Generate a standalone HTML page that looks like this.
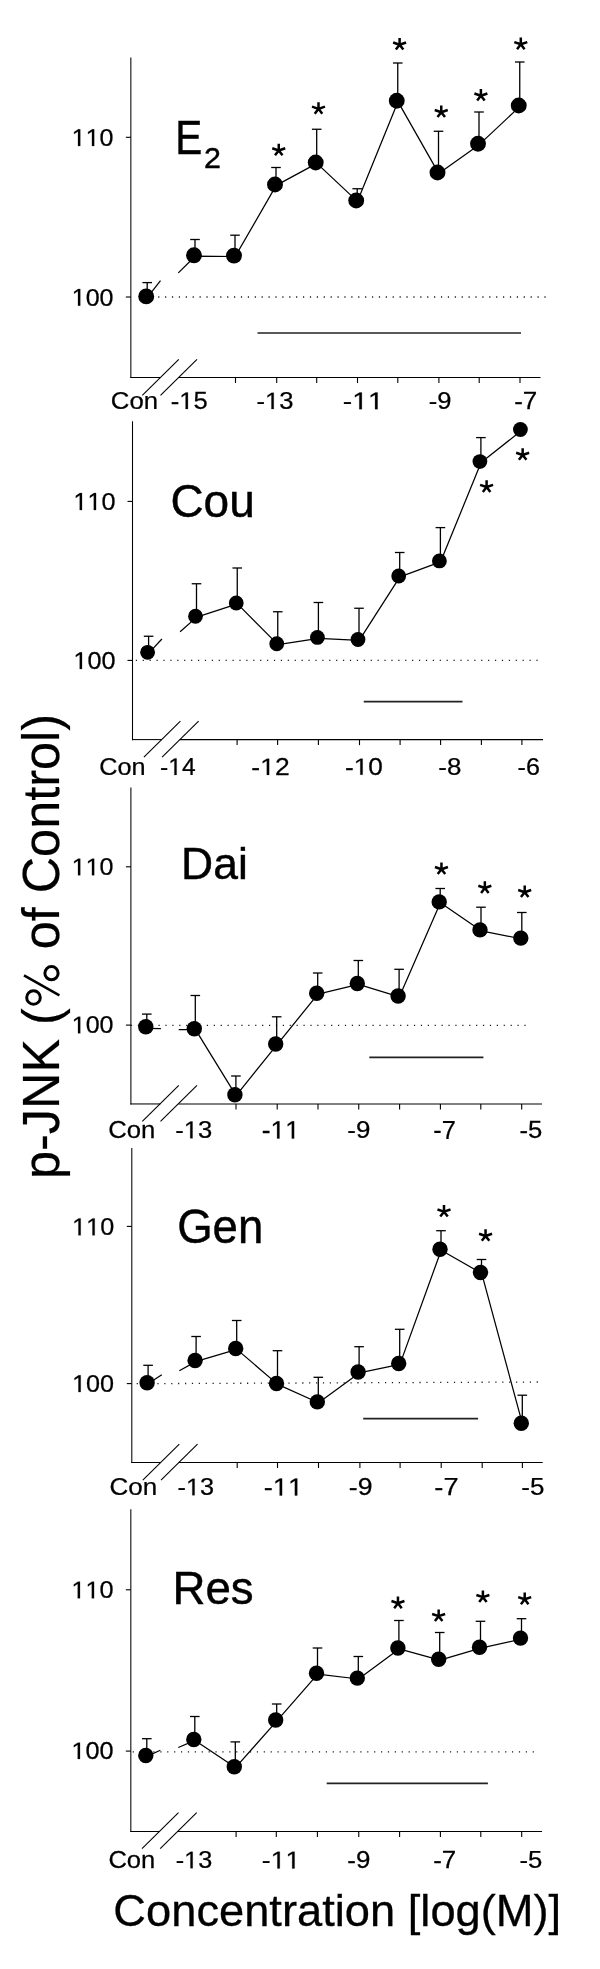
<!DOCTYPE html>
<html><head><meta charset="utf-8"><style>
html,body{margin:0;padding:0;background:#fff;}
svg{display:block;}
text{font-family:"Liberation Sans", sans-serif;fill:#000;stroke:#000;stroke-width:0.45px;font-kerning:none;}
svg{filter:grayscale(100%);}
</style></head><body>
<svg width="600" height="1969" viewBox="0 0 600 1969">
<rect width="600" height="1969" fill="#fff"/>
<line x1="130.85" y1="57.5" x2="130.85" y2="378.025" stroke="#000" stroke-width="1.05"/>
<line x1="125.85" y1="137.3" x2="130.85" y2="137.3" stroke="#000" stroke-width="1.1"/>
<line x1="125.85" y1="297.0" x2="130.85" y2="297.0" stroke="#000" stroke-width="1.1"/>
<line x1="130.325" y1="377.5" x2="160.3" y2="377.5" stroke="#000" stroke-width="1.05"/>
<line x1="178.3" y1="377.5" x2="540.5" y2="377.5" stroke="#000" stroke-width="1.05"/>
<line x1="142.3" y1="395.3" x2="178.8" y2="359.3" stroke="#000" stroke-width="1.1"/>
<line x1="160.5" y1="395.3" x2="197.0" y2="359.3" stroke="#000" stroke-width="1.1"/>
<line x1="235.5" y1="377.5" x2="235.5" y2="383.0" stroke="#000" stroke-width="1.1"/>
<line x1="276.7" y1="377.5" x2="276.7" y2="383.0" stroke="#000" stroke-width="1.1"/>
<line x1="316.7" y1="377.5" x2="316.7" y2="383.0" stroke="#000" stroke-width="1.1"/>
<line x1="357.5" y1="377.5" x2="357.5" y2="383.0" stroke="#000" stroke-width="1.1"/>
<line x1="397.8" y1="377.5" x2="397.8" y2="383.0" stroke="#000" stroke-width="1.1"/>
<line x1="438.9" y1="377.5" x2="438.9" y2="383.0" stroke="#000" stroke-width="1.1"/>
<line x1="479.2" y1="377.5" x2="479.2" y2="383.0" stroke="#000" stroke-width="1.1"/>
<line x1="520.0" y1="377.5" x2="520.0" y2="383.0" stroke="#000" stroke-width="1.1"/>
<line x1="158.15" y1="297.0" x2="545.70" y2="297.0" stroke="#1a1a1a" stroke-width="1.3" stroke-dasharray="1.2 5.6973"/>
<line x1="257.5" y1="333.0" x2="521" y2="333.0" stroke="#222" stroke-width="1.7"/>
<text transform="translate(71.71 145.94) scale(1.0414 1)" font-size="24.08" style="stroke-width:0.25px">  0</text><path d="M515 0L515 1237L197 1010L197 1180L530 1409L696 1409L696 0Z" transform="translate(71.71 145.94) scale(0.01225 -0.01176)" fill="#000" stroke="#000" stroke-width="0.25" vector-effect="non-scaling-stroke"/><path d="M515 0L515 1237L197 1010L197 1180L530 1409L696 1409L696 0Z" transform="translate(85.66 145.94) scale(0.01225 -0.01176)" fill="#000" stroke="#000" stroke-width="0.25" vector-effect="non-scaling-stroke"/>
<text transform="translate(71.71 305.64) scale(1.0414 1)" font-size="24.08" style="stroke-width:0.25px"> 00</text><path d="M515 0L515 1237L197 1010L197 1180L530 1409L696 1409L696 0Z" transform="translate(71.71 305.64) scale(0.01225 -0.01176)" fill="#000" stroke="#000" stroke-width="0.25" vector-effect="non-scaling-stroke"/>
<text transform="translate(110.82 408.95) scale(1.1014 1)" font-size="23.38" style="stroke-width:0.25px">Con</text>
<text transform="translate(170.69 408.94) scale(1.0781 1)" font-size="23.72" style="stroke-width:0.25px">- 5</text><path d="M515 0L515 1237L197 1010L197 1180L530 1409L696 1409L696 0Z" transform="translate(179.20 408.94) scale(0.01249 -0.01158)" fill="#000" stroke="#000" stroke-width="0.25" vector-effect="non-scaling-stroke"/>
<text transform="translate(256.49 408.95) scale(1.0956 1)" font-size="23.38" style="stroke-width:0.25px">- 3</text><path d="M515 0L515 1237L197 1010L197 1180L530 1409L696 1409L696 0Z" transform="translate(265.02 408.95) scale(0.01250 -0.01141)" fill="#000" stroke="#000" stroke-width="0.25" vector-effect="non-scaling-stroke"/>
<text transform="translate(342.77 409.18) scale(1.1774 1)" font-size="24.06" style="stroke-width:0.25px">-  </text><path d="M515 0L515 1237L197 1010L197 1180L530 1409L696 1409L696 0Z" transform="translate(352.20 409.18) scale(0.01383 -0.01175)" fill="#000" stroke="#000" stroke-width="0.25" vector-effect="non-scaling-stroke"/><path d="M515 0L515 1237L197 1010L197 1180L530 1409L696 1409L696 0Z" transform="translate(367.95 409.18) scale(0.01383 -0.01175)" fill="#000" stroke="#000" stroke-width="0.25" vector-effect="non-scaling-stroke"/>
<text transform="translate(428.69 408.95) scale(1.0918 1)" font-size="23.38" style="stroke-width:0.25px">-9</text>
<text transform="translate(514.17 409.18) scale(1.0806 1)" font-size="24.06" style="stroke-width:0.25px">-7</text>
<text transform="translate(175.20 153.78) scale(0.8586 1)" font-size="47.17">E</text>
<text transform="translate(204.00 168.47) scale(1.0280 1)" font-size="29.57">2</text>
<line x1="147.39999999999998" y1="297.29999999999995" x2="160.5" y2="280.7" stroke="#000" stroke-width="1.25"/>
<path d="M178.3 272.9 L195.20 256.20 L235.20 256.50 L276.20 185.40 L316.90 163.40 L357.40 201.40 L397.95 101.65 L438.70 173.40 L479.20 144.65 L519.95 106.40" fill="none" stroke="#000" stroke-width="1.25" stroke-linejoin="round"/>
<line x1="147.2" y1="296.4" x2="147.2" y2="282.6" stroke="#000" stroke-width="1.3"/>
<line x1="142.39999999999998" y1="282.6" x2="152.0" y2="282.6" stroke="#000" stroke-width="1.3"/>
<line x1="195.0" y1="255.3" x2="195.0" y2="239.5" stroke="#000" stroke-width="1.3"/>
<line x1="190.2" y1="239.5" x2="199.8" y2="239.5" stroke="#000" stroke-width="1.3"/>
<line x1="235.0" y1="255.6" x2="235.0" y2="235.2" stroke="#000" stroke-width="1.3"/>
<line x1="230.2" y1="235.2" x2="239.8" y2="235.2" stroke="#000" stroke-width="1.3"/>
<line x1="276.0" y1="184.5" x2="276.0" y2="167.5" stroke="#000" stroke-width="1.3"/>
<line x1="271.2" y1="167.5" x2="280.8" y2="167.5" stroke="#000" stroke-width="1.3"/>
<line x1="316.7" y1="162.5" x2="316.7" y2="129.25" stroke="#000" stroke-width="1.3"/>
<line x1="311.9" y1="129.25" x2="321.5" y2="129.25" stroke="#000" stroke-width="1.3"/>
<line x1="357.2" y1="200.5" x2="357.2" y2="188.75" stroke="#000" stroke-width="1.3"/>
<line x1="352.4" y1="188.75" x2="362.0" y2="188.75" stroke="#000" stroke-width="1.3"/>
<line x1="397.75" y1="100.75" x2="397.75" y2="63" stroke="#000" stroke-width="1.3"/>
<line x1="392.95" y1="63" x2="402.55" y2="63" stroke="#000" stroke-width="1.3"/>
<line x1="438.5" y1="172.5" x2="438.5" y2="131.25" stroke="#000" stroke-width="1.3"/>
<line x1="433.7" y1="131.25" x2="443.3" y2="131.25" stroke="#000" stroke-width="1.3"/>
<line x1="479.0" y1="143.75" x2="479.0" y2="112" stroke="#000" stroke-width="1.3"/>
<line x1="474.2" y1="112" x2="483.8" y2="112" stroke="#000" stroke-width="1.3"/>
<line x1="519.75" y1="105.5" x2="519.75" y2="62" stroke="#000" stroke-width="1.3"/>
<line x1="514.95" y1="62" x2="524.55" y2="62" stroke="#000" stroke-width="1.3"/>
<circle cx="146.2" cy="296.4" r="7.95" fill="#000"/>
<circle cx="194" cy="255.3" r="7.95" fill="#000"/>
<circle cx="234" cy="255.6" r="7.95" fill="#000"/>
<circle cx="275" cy="184.5" r="7.95" fill="#000"/>
<circle cx="315.7" cy="162.5" r="7.95" fill="#000"/>
<circle cx="356.2" cy="200.5" r="7.95" fill="#000"/>
<circle cx="396.75" cy="100.75" r="7.95" fill="#000"/>
<circle cx="437.5" cy="172.5" r="7.95" fill="#000"/>
<circle cx="478" cy="143.75" r="7.95" fill="#000"/>
<circle cx="518.75" cy="105.5" r="7.95" fill="#000"/>
<path d="M278.75 150.45l0 -6.7M278.75 150.45l6.5 -2.2M278.75 150.45l-6.5 -2.2M278.75 150.45l3.75 4.9M278.75 150.45l-3.75 4.9" stroke="#000" stroke-width="2.5" fill="none"/>
<path d="M318.50 108.85l0 -6.7M318.50 108.85l6.5 -2.2M318.50 108.85l-6.5 -2.2M318.50 108.85l3.75 4.9M318.50 108.85l-3.75 4.9" stroke="#000" stroke-width="2.5" fill="none"/>
<path d="M399.60 44.70l0 -6.7M399.60 44.70l6.5 -2.2M399.60 44.70l-6.5 -2.2M399.60 44.70l3.75 4.9M399.60 44.70l-3.75 4.9" stroke="#000" stroke-width="2.5" fill="none"/>
<path d="M441.25 112.20l0 -6.7M441.25 112.20l6.5 -2.2M441.25 112.20l-6.5 -2.2M441.25 112.20l3.75 4.9M441.25 112.20l-3.75 4.9" stroke="#000" stroke-width="2.5" fill="none"/>
<path d="M480.90 95.70l0 -6.7M480.90 95.70l6.5 -2.2M480.90 95.70l-6.5 -2.2M480.90 95.70l3.75 4.9M480.90 95.70l-3.75 4.9" stroke="#000" stroke-width="2.5" fill="none"/>
<path d="M520.80 44.30l0 -6.7M520.80 44.30l6.5 -2.2M520.80 44.30l-6.5 -2.2M520.80 44.30l3.75 4.9M520.80 44.30l-3.75 4.9" stroke="#000" stroke-width="2.5" fill="none"/>
<line x1="132.5" y1="421.25" x2="132.5" y2="740.125" stroke="#000" stroke-width="1.05"/>
<line x1="127.5" y1="501.4" x2="132.5" y2="501.4" stroke="#000" stroke-width="1.1"/>
<line x1="127.5" y1="660.4" x2="132.5" y2="660.4" stroke="#000" stroke-width="1.1"/>
<line x1="131.975" y1="739.6" x2="161.9" y2="739.6" stroke="#000" stroke-width="1.05"/>
<line x1="179.9" y1="739.6" x2="543" y2="739.6" stroke="#000" stroke-width="1.05"/>
<line x1="143.9" y1="757.1" x2="180.4" y2="721.1" stroke="#000" stroke-width="1.1"/>
<line x1="162.1" y1="757.1" x2="198.6" y2="721.1" stroke="#000" stroke-width="1.1"/>
<line x1="237.1" y1="739.6" x2="237.1" y2="745.1" stroke="#000" stroke-width="1.1"/>
<line x1="277.6" y1="739.6" x2="277.6" y2="745.1" stroke="#000" stroke-width="1.1"/>
<line x1="318.4" y1="739.6" x2="318.4" y2="745.1" stroke="#000" stroke-width="1.1"/>
<line x1="359.5" y1="739.6" x2="359.5" y2="745.1" stroke="#000" stroke-width="1.1"/>
<line x1="400.1" y1="739.6" x2="400.1" y2="745.1" stroke="#000" stroke-width="1.1"/>
<line x1="440.6" y1="739.6" x2="440.6" y2="745.1" stroke="#000" stroke-width="1.1"/>
<line x1="481.4" y1="739.6" x2="481.4" y2="745.1" stroke="#000" stroke-width="1.1"/>
<line x1="521.9" y1="739.6" x2="521.9" y2="745.1" stroke="#000" stroke-width="1.1"/>
<line x1="135.80" y1="660.4" x2="537.70" y2="660.4" stroke="#1a1a1a" stroke-width="1.3" stroke-dasharray="1.2 5.7069"/>
<line x1="363.75" y1="701.6" x2="462.5" y2="701.6" stroke="#222" stroke-width="1.7"/>
<text transform="translate(73.39 510.03) scale(1.0255 1)" font-size="24.65" style="stroke-width:0.25px">  0</text><path d="M515 0L515 1237L197 1010L197 1180L530 1409L696 1409L696 0Z" transform="translate(73.39 510.03) scale(0.01234 -0.01203)" fill="#000" stroke="#000" stroke-width="0.25" vector-effect="non-scaling-stroke"/><path d="M515 0L515 1237L197 1010L197 1180L530 1409L696 1409L696 0Z" transform="translate(87.45 510.03) scale(0.01234 -0.01203)" fill="#000" stroke="#000" stroke-width="0.25" vector-effect="non-scaling-stroke"/>
<text transform="translate(73.39 668.94) scale(1.0495 1)" font-size="24.08" style="stroke-width:0.25px"> 00</text><path d="M515 0L515 1237L197 1010L197 1180L530 1409L696 1409L696 0Z" transform="translate(73.39 668.94) scale(0.01234 -0.01176)" fill="#000" stroke="#000" stroke-width="0.25" vector-effect="non-scaling-stroke"/>
<text transform="translate(99.24 774.65) scale(1.0855 1)" font-size="23.23" style="stroke-width:0.25px">Con</text>
<text transform="translate(160.03 774.88) scale(1.0291 1)" font-size="23.91" style="stroke-width:0.25px">- 4</text><path d="M515 0L515 1237L197 1010L197 1180L530 1409L696 1409L696 0Z" transform="translate(168.23 774.88) scale(0.01201 -0.01167)" fill="#000" stroke="#000" stroke-width="0.25" vector-effect="non-scaling-stroke"/>
<text transform="translate(251.35 774.88) scale(1.1236 1)" font-size="23.56" style="stroke-width:0.25px">- 2</text><path d="M515 0L515 1237L197 1010L197 1180L530 1409L696 1409L696 0Z" transform="translate(260.16 774.88) scale(0.01292 -0.01150)" fill="#000" stroke="#000" stroke-width="0.25" vector-effect="non-scaling-stroke"/>
<text transform="translate(344.96 774.65) scale(1.1299 1)" font-size="23.23" style="stroke-width:0.25px">- 0</text><path d="M515 0L515 1237L197 1010L197 1180L530 1409L696 1409L696 0Z" transform="translate(353.70 774.65) scale(0.01282 -0.01134)" fill="#000" stroke="#000" stroke-width="0.25" vector-effect="non-scaling-stroke"/>
<text transform="translate(438.37 774.65) scale(1.1146 1)" font-size="23.23" style="stroke-width:0.25px">-8</text>
<text transform="translate(517.61 774.65) scale(1.0830 1)" font-size="23.23" style="stroke-width:0.25px">-6</text>
<text transform="translate(170.39 517.32) scale(0.9787 1)" font-size="47.03">Cou</text>
<line x1="148.79999999999998" y1="653.1999999999999" x2="161.9" y2="639" stroke="#000" stroke-width="1.25"/>
<path d="M180.1 631.7 L196.70 617.15 L237.45 603.90 L277.95 644.65 L318.60 638.30 L359.20 640.40 L399.90 576.90 L440.60 561.80 L481.10 462.50 L521.60 430.40" fill="none" stroke="#000" stroke-width="1.25" stroke-linejoin="round"/>
<line x1="148.6" y1="652.3" x2="148.6" y2="636.25" stroke="#000" stroke-width="1.3"/>
<line x1="143.79999999999998" y1="636.25" x2="153.4" y2="636.25" stroke="#000" stroke-width="1.3"/>
<line x1="196.5" y1="616.25" x2="196.5" y2="583.75" stroke="#000" stroke-width="1.3"/>
<line x1="191.7" y1="583.75" x2="201.3" y2="583.75" stroke="#000" stroke-width="1.3"/>
<line x1="237.25" y1="603" x2="237.25" y2="568" stroke="#000" stroke-width="1.3"/>
<line x1="232.45" y1="568" x2="242.05" y2="568" stroke="#000" stroke-width="1.3"/>
<line x1="277.75" y1="643.75" x2="277.75" y2="611.75" stroke="#000" stroke-width="1.3"/>
<line x1="272.95" y1="611.75" x2="282.55" y2="611.75" stroke="#000" stroke-width="1.3"/>
<line x1="318.4" y1="637.4" x2="318.4" y2="602.5" stroke="#000" stroke-width="1.3"/>
<line x1="313.59999999999997" y1="602.5" x2="323.2" y2="602.5" stroke="#000" stroke-width="1.3"/>
<line x1="359.0" y1="639.5" x2="359.0" y2="608.25" stroke="#000" stroke-width="1.3"/>
<line x1="354.2" y1="608.25" x2="363.8" y2="608.25" stroke="#000" stroke-width="1.3"/>
<line x1="399.7" y1="576" x2="399.7" y2="552.5" stroke="#000" stroke-width="1.3"/>
<line x1="394.9" y1="552.5" x2="404.5" y2="552.5" stroke="#000" stroke-width="1.3"/>
<line x1="440.4" y1="560.9" x2="440.4" y2="527.6" stroke="#000" stroke-width="1.3"/>
<line x1="435.59999999999997" y1="527.6" x2="445.2" y2="527.6" stroke="#000" stroke-width="1.3"/>
<line x1="480.9" y1="461.6" x2="480.9" y2="437.6" stroke="#000" stroke-width="1.3"/>
<line x1="476.09999999999997" y1="437.6" x2="485.7" y2="437.6" stroke="#000" stroke-width="1.3"/>
<circle cx="147.6" cy="652.3" r="7.4" fill="#000"/>
<circle cx="195.5" cy="616.25" r="7.4" fill="#000"/>
<circle cx="236.25" cy="603" r="7.4" fill="#000"/>
<circle cx="276.75" cy="643.75" r="7.4" fill="#000"/>
<circle cx="317.4" cy="637.4" r="7.4" fill="#000"/>
<circle cx="358" cy="639.5" r="7.4" fill="#000"/>
<circle cx="398.7" cy="576" r="7.4" fill="#000"/>
<circle cx="439.4" cy="560.9" r="7.4" fill="#000"/>
<circle cx="479.9" cy="461.6" r="7.4" fill="#000"/>
<circle cx="520.4" cy="429.5" r="7.4" fill="#000"/>
<path d="M486.60 487.05l0 -6.7M486.60 487.05l6.5 -2.2M486.60 487.05l-6.5 -2.2M486.60 487.05l3.75 4.9M486.60 487.05l-3.75 4.9" stroke="#000" stroke-width="2.5" fill="none"/>
<path d="M522.65 454.95l0 -6.7M522.65 454.95l6.5 -2.2M522.65 454.95l-6.5 -2.2M522.65 454.95l3.75 4.9M522.65 454.95l-3.75 4.9" stroke="#000" stroke-width="2.5" fill="none"/>
<line x1="130.9" y1="787.5" x2="130.9" y2="1104.4750000000001" stroke="#000" stroke-width="1.05"/>
<line x1="125.9" y1="866.8" x2="130.9" y2="866.8" stroke="#000" stroke-width="1.1"/>
<line x1="125.9" y1="1025.1" x2="130.9" y2="1025.1" stroke="#000" stroke-width="1.1"/>
<line x1="130.375" y1="1103.95" x2="160.3" y2="1103.95" stroke="#000" stroke-width="1.05"/>
<line x1="178.3" y1="1103.95" x2="542" y2="1103.95" stroke="#000" stroke-width="1.05"/>
<line x1="142.3" y1="1121.3" x2="178.8" y2="1085.3" stroke="#000" stroke-width="1.1"/>
<line x1="160.5" y1="1121.3" x2="197.0" y2="1085.3" stroke="#000" stroke-width="1.1"/>
<line x1="236" y1="1103.95" x2="236" y2="1109.45" stroke="#000" stroke-width="1.1"/>
<line x1="277.2" y1="1103.95" x2="277.2" y2="1109.45" stroke="#000" stroke-width="1.1"/>
<line x1="318" y1="1103.95" x2="318" y2="1109.45" stroke="#000" stroke-width="1.1"/>
<line x1="358.75" y1="1103.95" x2="358.75" y2="1109.45" stroke="#000" stroke-width="1.1"/>
<line x1="399.6" y1="1103.95" x2="399.6" y2="1109.45" stroke="#000" stroke-width="1.1"/>
<line x1="440.4" y1="1103.95" x2="440.4" y2="1109.45" stroke="#000" stroke-width="1.1"/>
<line x1="480.8" y1="1103.95" x2="480.8" y2="1109.45" stroke="#000" stroke-width="1.1"/>
<line x1="521.7" y1="1103.95" x2="521.7" y2="1109.45" stroke="#000" stroke-width="1.1"/>
<line x1="130.90" y1="1025.4" x2="525.70" y2="1025.4" stroke="#1a1a1a" stroke-width="1.3" stroke-dasharray="1.2 5.7035"/>
<line x1="369.3" y1="1057.4" x2="483.4" y2="1057.4" stroke="#222" stroke-width="1.7"/>
<text transform="translate(71.71 875.24) scale(1.0414 1)" font-size="24.08" style="stroke-width:0.25px">  0</text><path d="M515 0L515 1237L197 1010L197 1180L530 1409L696 1409L696 0Z" transform="translate(71.71 875.24) scale(0.01225 -0.01176)" fill="#000" stroke="#000" stroke-width="0.25" vector-effect="non-scaling-stroke"/><path d="M515 0L515 1237L197 1010L197 1180L530 1409L696 1409L696 0Z" transform="translate(85.66 875.24) scale(0.01225 -0.01176)" fill="#000" stroke="#000" stroke-width="0.25" vector-effect="non-scaling-stroke"/>
<text transform="translate(71.71 1033.34) scale(1.0414 1)" font-size="24.08" style="stroke-width:0.25px"> 00</text><path d="M515 0L515 1237L197 1010L197 1180L530 1409L696 1409L696 0Z" transform="translate(71.71 1033.34) scale(0.01225 -0.01176)" fill="#000" stroke="#000" stroke-width="0.25" vector-effect="non-scaling-stroke"/>
<text transform="translate(108.32 1138.34) scale(1.0519 1)" font-size="24.36" style="stroke-width:0.25px">Con</text>
<text transform="translate(175.29 1138.34) scale(1.0511 1)" font-size="24.36" style="stroke-width:0.25px">- 3</text><path d="M515 0L515 1237L197 1010L197 1180L530 1409L696 1409L696 0Z" transform="translate(183.82 1138.34) scale(0.01250 -0.01190)" fill="#000" stroke="#000" stroke-width="0.25" vector-effect="non-scaling-stroke"/>
<text transform="translate(261.70 1138.58) scale(1.0522 1)" font-size="25.07" style="stroke-width:0.25px">-  </text><path d="M515 0L515 1237L197 1010L197 1180L530 1409L696 1409L696 0Z" transform="translate(270.49 1138.58) scale(0.01288 -0.01224)" fill="#000" stroke="#000" stroke-width="0.25" vector-effect="non-scaling-stroke"/><path d="M515 0L515 1237L197 1010L197 1180L530 1409L696 1409L696 0Z" transform="translate(285.16 1138.58) scale(0.01288 -0.01224)" fill="#000" stroke="#000" stroke-width="0.25" vector-effect="non-scaling-stroke"/>
<text transform="translate(347.27 1138.34) scale(1.0629 1)" font-size="24.36" style="stroke-width:0.25px">-9</text>
<text transform="translate(433.20 1138.58) scale(1.0116 1)" font-size="25.07" style="stroke-width:0.25px">-7</text>
<text transform="translate(519.38 1138.33) scale(1.0380 1)" font-size="24.72" style="stroke-width:0.25px">-5</text>
<text transform="translate(181.08 879.35) scale(1.0184 1)" font-size="43.64">Dai</text>
<line x1="146" y1="1028.3" x2="160.9" y2="1028.5" stroke="#000" stroke-width="1.25"/>
<path d="M178.7 1029.5 L195.50 1029.70 L236.10 1095.60 L276.90 1044.90 L317.90 994.10 L358.50 984.40 L399.30 996.90 L440.40 902.80 L481.20 930.80 L522.00 939.00" fill="none" stroke="#000" stroke-width="1.25" stroke-linejoin="round"/>
<line x1="146.8" y1="1026.7" x2="146.8" y2="1014.1" stroke="#000" stroke-width="1.3"/>
<line x1="142.0" y1="1014.1" x2="151.60000000000002" y2="1014.1" stroke="#000" stroke-width="1.3"/>
<line x1="195.3" y1="1028.8" x2="195.3" y2="995.5" stroke="#000" stroke-width="1.3"/>
<line x1="190.5" y1="995.5" x2="200.10000000000002" y2="995.5" stroke="#000" stroke-width="1.3"/>
<line x1="235.9" y1="1094.7" x2="235.9" y2="1076" stroke="#000" stroke-width="1.3"/>
<line x1="231.1" y1="1076" x2="240.70000000000002" y2="1076" stroke="#000" stroke-width="1.3"/>
<line x1="276.7" y1="1044" x2="276.7" y2="1016.8" stroke="#000" stroke-width="1.3"/>
<line x1="271.9" y1="1016.8" x2="281.5" y2="1016.8" stroke="#000" stroke-width="1.3"/>
<line x1="317.7" y1="993.2" x2="317.7" y2="973" stroke="#000" stroke-width="1.3"/>
<line x1="312.9" y1="973" x2="322.5" y2="973" stroke="#000" stroke-width="1.3"/>
<line x1="358.3" y1="983.5" x2="358.3" y2="960.5" stroke="#000" stroke-width="1.3"/>
<line x1="353.5" y1="960.5" x2="363.1" y2="960.5" stroke="#000" stroke-width="1.3"/>
<line x1="399.1" y1="996" x2="399.1" y2="969.3" stroke="#000" stroke-width="1.3"/>
<line x1="394.3" y1="969.3" x2="403.90000000000003" y2="969.3" stroke="#000" stroke-width="1.3"/>
<line x1="440.2" y1="901.9" x2="440.2" y2="888.5" stroke="#000" stroke-width="1.3"/>
<line x1="435.4" y1="888.5" x2="445.0" y2="888.5" stroke="#000" stroke-width="1.3"/>
<line x1="481.0" y1="929.9" x2="481.0" y2="907.2" stroke="#000" stroke-width="1.3"/>
<line x1="476.2" y1="907.2" x2="485.8" y2="907.2" stroke="#000" stroke-width="1.3"/>
<line x1="521.8" y1="938.1" x2="521.8" y2="912.5" stroke="#000" stroke-width="1.3"/>
<line x1="517.0" y1="912.5" x2="526.5999999999999" y2="912.5" stroke="#000" stroke-width="1.3"/>
<circle cx="145.8" cy="1026.7" r="7.7" fill="#000"/>
<circle cx="194.3" cy="1028.8" r="7.7" fill="#000"/>
<circle cx="234.9" cy="1094.7" r="7.7" fill="#000"/>
<circle cx="275.7" cy="1044" r="7.7" fill="#000"/>
<circle cx="316.7" cy="993.2" r="7.7" fill="#000"/>
<circle cx="357.3" cy="983.5" r="7.7" fill="#000"/>
<circle cx="398.1" cy="996" r="7.7" fill="#000"/>
<circle cx="439.2" cy="901.9" r="7.7" fill="#000"/>
<circle cx="480" cy="929.9" r="7.7" fill="#000"/>
<circle cx="520.8" cy="938.1" r="7.7" fill="#000"/>
<path d="M441.45 869.20l0 -6.7M441.45 869.20l6.5 -2.2M441.45 869.20l-6.5 -2.2M441.45 869.20l3.75 4.9M441.45 869.20l-3.75 4.9" stroke="#000" stroke-width="2.5" fill="none"/>
<path d="M484.85 888.00l0 -6.7M484.85 888.00l6.5 -2.2M484.85 888.00l-6.5 -2.2M484.85 888.00l3.75 4.9M484.85 888.00l-3.75 4.9" stroke="#000" stroke-width="2.5" fill="none"/>
<path d="M524.70 892.20l0 -6.7M524.70 892.20l6.5 -2.2M524.70 892.20l-6.5 -2.2M524.70 892.20l3.75 4.9M524.70 892.20l-3.75 4.9" stroke="#000" stroke-width="2.5" fill="none"/>
<line x1="131.8" y1="1148" x2="131.8" y2="1463.025" stroke="#000" stroke-width="1.05"/>
<line x1="126.80000000000001" y1="1226.4" x2="131.8" y2="1226.4" stroke="#000" stroke-width="1.1"/>
<line x1="126.80000000000001" y1="1383.6" x2="131.8" y2="1383.6" stroke="#000" stroke-width="1.1"/>
<line x1="131.275" y1="1462.5" x2="160.8" y2="1462.5" stroke="#000" stroke-width="1.05"/>
<line x1="178.8" y1="1462.5" x2="542.7" y2="1462.5" stroke="#000" stroke-width="1.05"/>
<line x1="142.8" y1="1480.2" x2="179.3" y2="1444.2" stroke="#000" stroke-width="1.1"/>
<line x1="161.0" y1="1480.2" x2="197.5" y2="1444.2" stroke="#000" stroke-width="1.1"/>
<line x1="237.2" y1="1462.5" x2="237.2" y2="1468.0" stroke="#000" stroke-width="1.1"/>
<line x1="277.5" y1="1462.5" x2="277.5" y2="1468.0" stroke="#000" stroke-width="1.1"/>
<line x1="318.5" y1="1462.5" x2="318.5" y2="1468.0" stroke="#000" stroke-width="1.1"/>
<line x1="359.9" y1="1462.5" x2="359.9" y2="1468.0" stroke="#000" stroke-width="1.1"/>
<line x1="400.1" y1="1462.5" x2="400.1" y2="1468.0" stroke="#000" stroke-width="1.1"/>
<line x1="441.2" y1="1462.5" x2="441.2" y2="1468.0" stroke="#000" stroke-width="1.1"/>
<line x1="482.2" y1="1462.5" x2="482.2" y2="1468.0" stroke="#000" stroke-width="1.1"/>
<line x1="522.4" y1="1462.5" x2="522.4" y2="1468.0" stroke="#000" stroke-width="1.1"/>
<line x1="136.70" y1="1383.7" x2="538.00" y2="1382.0" stroke="#1a1a1a" stroke-width="1.3" stroke-dasharray="1.2 5.6966"/>
<line x1="363.2" y1="1418.7" x2="478.1" y2="1418.7" stroke="#222" stroke-width="1.7"/>
<text transform="translate(72.10 1235.33) scale(1.0228 1)" font-size="24.65" style="stroke-width:0.25px">  0</text><path d="M515 0L515 1237L197 1010L197 1180L530 1409L696 1409L696 0Z" transform="translate(72.10 1235.33) scale(0.01231 -0.01203)" fill="#000" stroke="#000" stroke-width="0.25" vector-effect="non-scaling-stroke"/><path d="M515 0L515 1237L197 1010L197 1180L530 1409L696 1409L696 0Z" transform="translate(86.12 1235.33) scale(0.01231 -0.01203)" fill="#000" stroke="#000" stroke-width="0.25" vector-effect="non-scaling-stroke"/>
<text transform="translate(72.10 1392.04) scale(1.0407 1)" font-size="24.22" style="stroke-width:0.25px"> 00</text><path d="M515 0L515 1237L197 1010L197 1180L530 1409L696 1409L696 0Z" transform="translate(72.10 1392.04) scale(0.01231 -0.01183)" fill="#000" stroke="#000" stroke-width="0.25" vector-effect="non-scaling-stroke"/>
<text transform="translate(109.51 1495.24) scale(1.0916 1)" font-size="23.80" style="stroke-width:0.25px">Con</text>
<text transform="translate(177.60 1495.24) scale(1.0606 1)" font-size="23.80" style="stroke-width:0.25px">- 3</text><path d="M515 0L515 1237L197 1010L197 1180L530 1409L696 1409L696 0Z" transform="translate(186.01 1495.24) scale(0.01232 -0.01162)" fill="#000" stroke="#000" stroke-width="0.25" vector-effect="non-scaling-stroke"/>
<text transform="translate(263.71 1495.47) scale(1.1151 1)" font-size="24.49" style="stroke-width:0.25px">-  </text><path d="M515 0L515 1237L197 1010L197 1180L530 1409L696 1409L696 0Z" transform="translate(272.81 1495.47) scale(0.01333 -0.01196)" fill="#000" stroke="#000" stroke-width="0.25" vector-effect="non-scaling-stroke"/><path d="M515 0L515 1237L197 1010L197 1180L530 1409L696 1409L696 0Z" transform="translate(287.99 1495.47) scale(0.01333 -0.01196)" fill="#000" stroke="#000" stroke-width="0.25" vector-effect="non-scaling-stroke"/>
<text transform="translate(348.84 1495.24) scale(1.1198 1)" font-size="23.80" style="stroke-width:0.25px">-9</text>
<text transform="translate(434.31 1495.47) scale(1.1127 1)" font-size="24.49" style="stroke-width:0.25px">-7</text>
<text transform="translate(521.37 1495.24) scale(1.0756 1)" font-size="24.15" style="stroke-width:0.25px">-5</text>
<text transform="translate(177.13 1243.31) scale(0.9584 1)" font-size="47.53">Gen</text>
<line x1="148.29999999999998" y1="1383.6000000000001" x2="161.8" y2="1374.8" stroke="#000" stroke-width="1.25"/>
<path d="M179.3 1370.7 L196.30 1361.40 L236.90 1349.40 L277.70 1384.40 L318.50 1402.80 L359.30 1372.90 L399.90 1364.40 L441.20 1250.20 L481.70 1273.40 L522.50 1424.10" fill="none" stroke="#000" stroke-width="1.25" stroke-linejoin="round"/>
<line x1="148.1" y1="1382.7" x2="148.1" y2="1365.3" stroke="#000" stroke-width="1.3"/>
<line x1="143.29999999999998" y1="1365.3" x2="152.9" y2="1365.3" stroke="#000" stroke-width="1.3"/>
<line x1="196.1" y1="1360.5" x2="196.1" y2="1336.5" stroke="#000" stroke-width="1.3"/>
<line x1="191.29999999999998" y1="1336.5" x2="200.9" y2="1336.5" stroke="#000" stroke-width="1.3"/>
<line x1="236.7" y1="1348.5" x2="236.7" y2="1320.5" stroke="#000" stroke-width="1.3"/>
<line x1="231.89999999999998" y1="1320.5" x2="241.5" y2="1320.5" stroke="#000" stroke-width="1.3"/>
<line x1="277.5" y1="1383.5" x2="277.5" y2="1350.7" stroke="#000" stroke-width="1.3"/>
<line x1="272.7" y1="1350.7" x2="282.3" y2="1350.7" stroke="#000" stroke-width="1.3"/>
<line x1="318.3" y1="1401.9" x2="318.3" y2="1377.3" stroke="#000" stroke-width="1.3"/>
<line x1="313.5" y1="1377.3" x2="323.1" y2="1377.3" stroke="#000" stroke-width="1.3"/>
<line x1="359.1" y1="1372" x2="359.1" y2="1346.7" stroke="#000" stroke-width="1.3"/>
<line x1="354.3" y1="1346.7" x2="363.90000000000003" y2="1346.7" stroke="#000" stroke-width="1.3"/>
<line x1="399.7" y1="1363.5" x2="399.7" y2="1329.3" stroke="#000" stroke-width="1.3"/>
<line x1="394.9" y1="1329.3" x2="404.5" y2="1329.3" stroke="#000" stroke-width="1.3"/>
<line x1="441.0" y1="1249.3" x2="441.0" y2="1230.7" stroke="#000" stroke-width="1.3"/>
<line x1="436.2" y1="1230.7" x2="445.8" y2="1230.7" stroke="#000" stroke-width="1.3"/>
<line x1="481.5" y1="1272.5" x2="481.5" y2="1259.5" stroke="#000" stroke-width="1.3"/>
<line x1="476.7" y1="1259.5" x2="486.3" y2="1259.5" stroke="#000" stroke-width="1.3"/>
<line x1="522.3" y1="1423.2" x2="522.3" y2="1395.2" stroke="#000" stroke-width="1.3"/>
<line x1="517.5" y1="1395.2" x2="527.0999999999999" y2="1395.2" stroke="#000" stroke-width="1.3"/>
<circle cx="147.1" cy="1382.7" r="7.7" fill="#000"/>
<circle cx="195.1" cy="1360.5" r="7.7" fill="#000"/>
<circle cx="235.7" cy="1348.5" r="7.7" fill="#000"/>
<circle cx="276.5" cy="1383.5" r="7.7" fill="#000"/>
<circle cx="317.3" cy="1401.9" r="7.7" fill="#000"/>
<circle cx="358.1" cy="1372" r="7.7" fill="#000"/>
<circle cx="398.7" cy="1363.5" r="7.7" fill="#000"/>
<circle cx="440" cy="1249.3" r="7.7" fill="#000"/>
<circle cx="480.5" cy="1272.5" r="7.7" fill="#000"/>
<circle cx="521.3" cy="1423.2" r="7.7" fill="#000"/>
<path d="M444.00 1211.65l0 -6.7M444.00 1211.65l6.5 -2.2M444.00 1211.65l-6.5 -2.2M444.00 1211.65l3.75 4.9M444.00 1211.65l-3.75 4.9" stroke="#000" stroke-width="2.5" fill="none"/>
<path d="M485.55 1235.95l0 -6.7M485.55 1235.95l6.5 -2.2M485.55 1235.95l-6.5 -2.2M485.55 1235.95l3.75 4.9M485.55 1235.95l-3.75 4.9" stroke="#000" stroke-width="2.5" fill="none"/>
<line x1="130.83" y1="1509.3" x2="130.83" y2="1832.025" stroke="#000" stroke-width="1.05"/>
<line x1="125.83000000000001" y1="1589.8" x2="130.83" y2="1589.8" stroke="#000" stroke-width="1.1"/>
<line x1="125.83000000000001" y1="1751.1" x2="130.83" y2="1751.1" stroke="#000" stroke-width="1.1"/>
<line x1="130.305" y1="1831.5" x2="160.0" y2="1831.5" stroke="#000" stroke-width="1.05"/>
<line x1="178.0" y1="1831.5" x2="542" y2="1831.5" stroke="#000" stroke-width="1.05"/>
<line x1="142.0" y1="1848.7" x2="178.5" y2="1812.7" stroke="#000" stroke-width="1.1"/>
<line x1="160.2" y1="1848.7" x2="196.7" y2="1812.7" stroke="#000" stroke-width="1.1"/>
<line x1="236.1" y1="1831.5" x2="236.1" y2="1837.0" stroke="#000" stroke-width="1.1"/>
<line x1="276.3" y1="1831.5" x2="276.3" y2="1837.0" stroke="#000" stroke-width="1.1"/>
<line x1="317.4" y1="1831.5" x2="317.4" y2="1837.0" stroke="#000" stroke-width="1.1"/>
<line x1="358.75" y1="1831.5" x2="358.75" y2="1837.0" stroke="#000" stroke-width="1.1"/>
<line x1="399.6" y1="1831.5" x2="399.6" y2="1837.0" stroke="#000" stroke-width="1.1"/>
<line x1="440.4" y1="1831.5" x2="440.4" y2="1837.0" stroke="#000" stroke-width="1.1"/>
<line x1="480.8" y1="1831.5" x2="480.8" y2="1837.0" stroke="#000" stroke-width="1.1"/>
<line x1="521.7" y1="1831.5" x2="521.7" y2="1837.0" stroke="#000" stroke-width="1.1"/>
<line x1="132.70" y1="1751.8" x2="534.00" y2="1751.8" stroke="#1a1a1a" stroke-width="1.3" stroke-dasharray="1.2 5.6966"/>
<line x1="326.7" y1="1783.3" x2="487.9" y2="1783.3" stroke="#222" stroke-width="1.7"/>
<text transform="translate(71.39 1598.34) scale(1.0434 1)" font-size="24.22" style="stroke-width:0.25px">  0</text><path d="M515 0L515 1237L197 1010L197 1180L530 1409L696 1409L696 0Z" transform="translate(71.39 1598.34) scale(0.01234 -0.01183)" fill="#000" stroke="#000" stroke-width="0.25" vector-effect="non-scaling-stroke"/><path d="M515 0L515 1237L197 1010L197 1180L530 1409L696 1409L696 0Z" transform="translate(85.45 1598.34) scale(0.01234 -0.01183)" fill="#000" stroke="#000" stroke-width="0.25" vector-effect="non-scaling-stroke"/>
<text transform="translate(71.39 1758.94) scale(1.0683 1)" font-size="23.66" style="stroke-width:0.25px"> 00</text><path d="M515 0L515 1237L197 1010L197 1180L530 1409L696 1409L696 0Z" transform="translate(71.39 1758.94) scale(0.01234 -0.01155)" fill="#000" stroke="#000" stroke-width="0.25" vector-effect="non-scaling-stroke"/>
<text transform="translate(108.43 1868.14) scale(1.0784 1)" font-size="23.66" style="stroke-width:0.25px">Con</text>
<text transform="translate(175.70 1868.14) scale(1.0669 1)" font-size="23.66" style="stroke-width:0.25px">- 3</text><path d="M515 0L515 1237L197 1010L197 1180L530 1409L696 1409L696 0Z" transform="translate(184.11 1868.14) scale(0.01232 -0.01155)" fill="#000" stroke="#000" stroke-width="0.25" vector-effect="non-scaling-stroke"/>
<text transform="translate(261.84 1868.38) scale(1.0940 1)" font-size="24.35" style="stroke-width:0.25px">-  </text><path d="M515 0L515 1237L197 1010L197 1180L530 1409L696 1409L696 0Z" transform="translate(270.71 1868.38) scale(0.01300 -0.01189)" fill="#000" stroke="#000" stroke-width="0.25" vector-effect="non-scaling-stroke"/><path d="M515 0L515 1237L197 1010L197 1180L530 1409L696 1409L696 0Z" transform="translate(285.52 1868.38) scale(0.01300 -0.01189)" fill="#000" stroke="#000" stroke-width="0.25" vector-effect="non-scaling-stroke"/>
<text transform="translate(347.27 1868.14) scale(1.0947 1)" font-size="23.66" style="stroke-width:0.25px">-9</text>
<text transform="translate(433.18 1868.38) scale(1.0625 1)" font-size="24.35" style="stroke-width:0.25px">-7</text>
<text transform="translate(519.38 1868.14) scale(1.0690 1)" font-size="24.01" style="stroke-width:0.25px">-5</text>
<text x="172.49" y="1604.13" font-size="45.65">Res</text>
<line x1="147.0" y1="1756.4" x2="160.3" y2="1750.3" stroke="#000" stroke-width="1.25"/>
<path d="M178.3 1747.5 L195.00 1740.40 L235.50 1767.60 L276.90 1720.90 L317.70 1674.20 L358.50 1679.00 L399.10 1648.90 L439.90 1660.10 L480.70 1648.10 L521.70 1639.00" fill="none" stroke="#000" stroke-width="1.25" stroke-linejoin="round"/>
<line x1="146.8" y1="1755.5" x2="146.8" y2="1738.7" stroke="#000" stroke-width="1.3"/>
<line x1="142.0" y1="1738.7" x2="151.60000000000002" y2="1738.7" stroke="#000" stroke-width="1.3"/>
<line x1="194.8" y1="1739.5" x2="194.8" y2="1716.5" stroke="#000" stroke-width="1.3"/>
<line x1="190.0" y1="1716.5" x2="199.60000000000002" y2="1716.5" stroke="#000" stroke-width="1.3"/>
<line x1="235.3" y1="1766.7" x2="235.3" y2="1741.9" stroke="#000" stroke-width="1.3"/>
<line x1="230.5" y1="1741.9" x2="240.10000000000002" y2="1741.9" stroke="#000" stroke-width="1.3"/>
<line x1="276.7" y1="1720" x2="276.7" y2="1704" stroke="#000" stroke-width="1.3"/>
<line x1="271.9" y1="1704" x2="281.5" y2="1704" stroke="#000" stroke-width="1.3"/>
<line x1="317.5" y1="1673.3" x2="317.5" y2="1648" stroke="#000" stroke-width="1.3"/>
<line x1="312.7" y1="1648" x2="322.3" y2="1648" stroke="#000" stroke-width="1.3"/>
<line x1="358.3" y1="1678.1" x2="358.3" y2="1656.5" stroke="#000" stroke-width="1.3"/>
<line x1="353.5" y1="1656.5" x2="363.1" y2="1656.5" stroke="#000" stroke-width="1.3"/>
<line x1="398.9" y1="1648" x2="398.9" y2="1620.5" stroke="#000" stroke-width="1.3"/>
<line x1="394.09999999999997" y1="1620.5" x2="403.7" y2="1620.5" stroke="#000" stroke-width="1.3"/>
<line x1="439.7" y1="1659.2" x2="439.7" y2="1632.5" stroke="#000" stroke-width="1.3"/>
<line x1="434.9" y1="1632.5" x2="444.5" y2="1632.5" stroke="#000" stroke-width="1.3"/>
<line x1="480.5" y1="1647.2" x2="480.5" y2="1621.3" stroke="#000" stroke-width="1.3"/>
<line x1="475.7" y1="1621.3" x2="485.3" y2="1621.3" stroke="#000" stroke-width="1.3"/>
<line x1="521.5" y1="1638.1" x2="521.5" y2="1618.7" stroke="#000" stroke-width="1.3"/>
<line x1="516.7" y1="1618.7" x2="526.3" y2="1618.7" stroke="#000" stroke-width="1.3"/>
<circle cx="145.8" cy="1755.5" r="7.7" fill="#000"/>
<circle cx="193.8" cy="1739.5" r="7.7" fill="#000"/>
<circle cx="234.3" cy="1766.7" r="7.7" fill="#000"/>
<circle cx="275.7" cy="1720" r="7.7" fill="#000"/>
<circle cx="316.5" cy="1673.3" r="7.7" fill="#000"/>
<circle cx="357.3" cy="1678.1" r="7.7" fill="#000"/>
<circle cx="397.9" cy="1648" r="7.7" fill="#000"/>
<circle cx="438.7" cy="1659.2" r="7.7" fill="#000"/>
<circle cx="479.5" cy="1647.2" r="7.7" fill="#000"/>
<circle cx="520.5" cy="1638.1" r="7.7" fill="#000"/>
<path d="M397.95 1603.25l0 -6.7M397.95 1603.25l6.5 -2.2M397.95 1603.25l-6.5 -2.2M397.95 1603.25l3.75 4.9M397.95 1603.25l-3.75 4.9" stroke="#000" stroke-width="2.5" fill="none"/>
<path d="M438.65 1616.15l0 -6.7M438.65 1616.15l6.5 -2.2M438.65 1616.15l-6.5 -2.2M438.65 1616.15l3.75 4.9M438.65 1616.15l-3.75 4.9" stroke="#000" stroke-width="2.5" fill="none"/>
<path d="M482.90 1597.15l0 -6.7M482.90 1597.15l6.5 -2.2M482.90 1597.15l-6.5 -2.2M482.90 1597.15l3.75 4.9M482.90 1597.15l-3.75 4.9" stroke="#000" stroke-width="2.5" fill="none"/>
<path d="M524.70 1599.30l0 -6.7M524.70 1599.30l6.5 -2.2M524.70 1599.30l-6.5 -2.2M524.70 1599.30l3.75 4.9M524.70 1599.30l-3.75 4.9" stroke="#000" stroke-width="2.5" fill="none"/>
<text transform="translate(59.10 1178.95) rotate(-90) scale(0.9826 1)" font-size="51.30" style="stroke-width:0.2px">p-JNK (<tspan style="fill:none;stroke:none">%</tspan> of Control)</text>
<circle cx="51.5" cy="973.2" r="6.6" fill="none" stroke="#000" stroke-width="3"/>
<circle cx="33.5" cy="997.5" r="6.8" fill="none" stroke="#000" stroke-width="3"/>
<line x1="24" y1="975.3" x2="59.4" y2="995.3" stroke="#000" stroke-width="2.5"/>
<text x="113.35" y="1926.26" font-size="45.27" style="stroke-width:0.3px">Concentration [log(M)]</text>
</svg>
</body></html>
